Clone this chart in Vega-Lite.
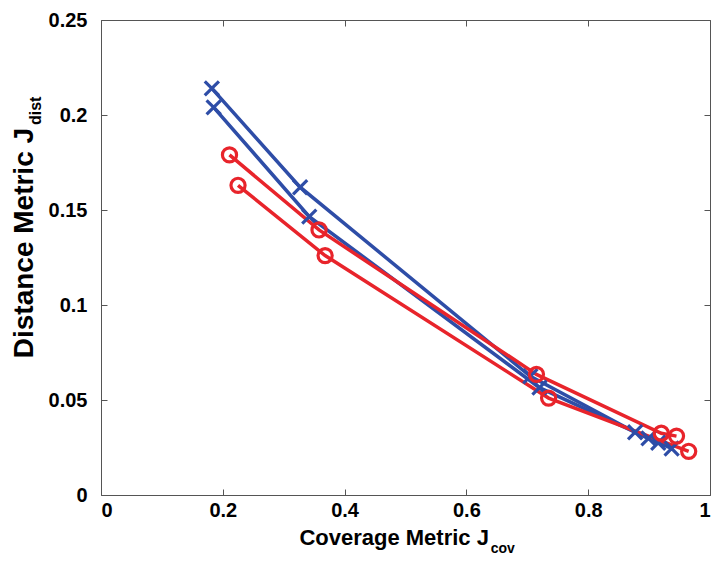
{
  "$schema": "https://vega.github.io/schema/vega-lite/v6.json",
  "width": 609,
  "height": 475,
  "autosize": "none",
  "padding": {"left": 101, "top": 20, "right": 2, "bottom": 68},
  "background": "white",
  "config": {
    "view": {"stroke": "#555555", "strokeWidth": 1},
    "font": "Liberation Sans",
    "axis": {"grid": false, "labelFont": "Liberation Sans", "labelFontWeight": "bold", "labelFontSize": 20, "labelColor": "#000000", "domain": false, "tickColor": "#555555", "tickSize": -6, "tickWidth": 1}
  },
  "datasets": {
    "pts": [
      {"series": "Blue A", "type": "x", "order": 1, "x": 0.182, "y": 0.214},
      {"series": "Blue A", "type": "x", "order": 2, "x": 0.327, "y": 0.162},
      {"series": "Blue A", "type": "x", "order": 3, "x": 0.705, "y": 0.0625},
      {"series": "Blue A", "type": "x", "order": 4, "x": 0.877, "y": 0.033},
      {"series": "Blue A", "type": "x", "order": 5, "x": 0.915, "y": 0.0275},
      {"series": "Blue B", "type": "x", "order": 1, "x": 0.185, "y": 0.204},
      {"series": "Blue B", "type": "x", "order": 2, "x": 0.342, "y": 0.1465},
      {"series": "Blue B", "type": "x", "order": 3, "x": 0.72, "y": 0.0565},
      {"series": "Blue B", "type": "x", "order": 4, "x": 0.899, "y": 0.0298},
      {"series": "Blue B", "type": "x", "order": 5, "x": 0.937, "y": 0.0245},
      {"series": "Red A", "type": "o", "order": 1, "x": 0.211, "y": 0.179},
      {"series": "Red A", "type": "o", "order": 2, "x": 0.358, "y": 0.1395},
      {"series": "Red A", "type": "o", "order": 3, "x": 0.715, "y": 0.0635},
      {"series": "Red A", "type": "o", "order": 4, "x": 0.92, "y": 0.0325},
      {"series": "Red A", "type": "o", "order": 5, "x": 0.945, "y": 0.031},
      {"series": "Red B", "type": "o", "order": 1, "x": 0.225, "y": 0.163},
      {"series": "Red B", "type": "o", "order": 2, "x": 0.368, "y": 0.126},
      {"series": "Red B", "type": "o", "order": 3, "x": 0.735, "y": 0.051},
      {"series": "Red B", "type": "o", "order": 4, "x": 0.965, "y": 0.023}
    ],
    "labels": [
      {"kind": "xmain", "text": "Coverage Metric J", "x": 0.637, "y": -0.0263},
      {"kind": "xsub", "text": "cov", "x": 0.64, "y": -0.0305},
      {"kind": "ymain", "text": "Distance Metric J", "x": -0.1117, "y": 0.1932},
      {"kind": "ysub", "text": "dist", "x": -0.0985, "y": 0.1947}
    ]
  },
  "resolve": {"axis": {"x": "independent", "y": "independent"}},
  "layer": [
    {
      "data": {"name": "pts"},
      "mark": {"type": "line", "strokeWidth": 3.5, "clip": false},
      "encoding": {
        "x": {"field": "x", "type": "quantitative", "scale": {"domain": [0, 1], "nice": false, "zero": false},
              "axis": {"orient": "bottom", "values": [0, 0.2, 0.4, 0.6, 0.8, 1], "labelExpr": "'' + datum.value", "labelPadding": 11, "title": null}},
        "y": {"field": "y", "type": "quantitative", "scale": {"domain": [0, 0.25], "nice": false, "zero": false},
              "axis": {"orient": "left", "values": [0, 0.05, 0.1, 0.15, 0.2, 0.25], "labelExpr": "'' + datum.value", "labelPadding": 20, "title": null}},
        "color": {"field": "series", "type": "nominal", "scale": {"domain": ["Blue A", "Blue B", "Red A", "Red B"], "range": ["#2E4DA7", "#2E4DA7", "#E8242B", "#E8242B"]}, "legend": null},
        "detail": {"field": "series"},
        "order": {"field": "order", "type": "quantitative"}
      }
    },
    {
      "data": {"name": "pts"},
      "mark": {"type": "point", "filled": false, "strokeWidth": 3.2, "size": 200, "opacity": 1},
      "encoding": {
        "x": {"field": "x", "type": "quantitative", "axis": {"orient": "top", "values": [0, 0.2, 0.4, 0.6, 0.8, 1], "labels": false, "title": null}},
        "y": {"field": "y", "type": "quantitative", "axis": {"orient": "right", "values": [0, 0.05, 0.1, 0.15, 0.2, 0.25], "labels": false, "title": null}},
        "color": {"field": "series", "type": "nominal", "legend": null},
        "shape": {"field": "type", "type": "nominal", "scale": {"domain": ["x", "o"], "range": ["M-1,-1L1,1M-1,1L1,-1", "circle"]}, "legend": null}
      }
    },
    {
      "data": {"name": "labels"},
      "transform": [{"filter": "datum.kind == 'xmain'"}],
      "mark": {"type": "text", "align": "right", "baseline": "alphabetic", "font": "Liberation Sans", "fontWeight": "bold", "fontSize": 22, "color": "#000000", "clip": false},
      "encoding": {
        "x": {"field": "x", "type": "quantitative", "axis": null},
        "y": {"field": "y", "type": "quantitative", "axis": null},
        "text": {"field": "text"}
      }
    },
    {
      "data": {"name": "labels"},
      "transform": [{"filter": "datum.kind == 'xsub'"}],
      "mark": {"type": "text", "align": "left", "baseline": "alphabetic", "font": "Liberation Sans", "fontWeight": "bold", "fontSize": 14, "color": "#000000", "clip": false},
      "encoding": {
        "x": {"field": "x", "type": "quantitative", "axis": null},
        "y": {"field": "y", "type": "quantitative", "axis": null},
        "text": {"field": "text"}
      }
    },
    {
      "data": {"name": "labels"},
      "transform": [{"filter": "datum.kind == 'ymain'"}],
      "mark": {"type": "text", "align": "right", "baseline": "alphabetic", "angle": 270, "font": "Liberation Sans", "fontWeight": "bold", "fontSize": 28, "color": "#000000", "clip": false},
      "encoding": {
        "x": {"field": "x", "type": "quantitative", "axis": null},
        "y": {"field": "y", "type": "quantitative", "axis": null},
        "text": {"field": "text"}
      }
    },
    {
      "data": {"name": "labels"},
      "transform": [{"filter": "datum.kind == 'ysub'"}],
      "mark": {"type": "text", "align": "left", "baseline": "alphabetic", "angle": 270, "font": "Liberation Sans", "fontWeight": "bold", "fontSize": 16, "color": "#000000", "clip": false},
      "encoding": {
        "x": {"field": "x", "type": "quantitative", "axis": null},
        "y": {"field": "y", "type": "quantitative", "axis": null},
        "text": {"field": "text"}
      }
    }
  ]
}
